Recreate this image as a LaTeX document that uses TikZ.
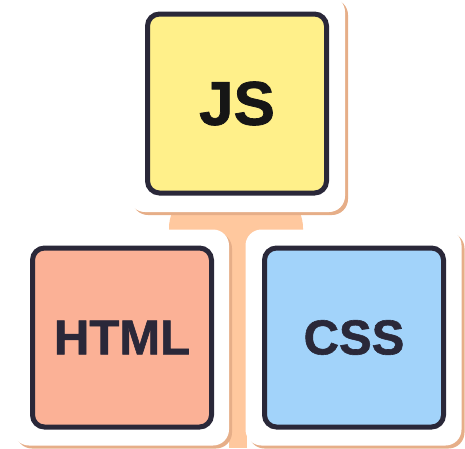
\documentclass[tikz,border=0pt]{standalone}
\usepackage{fontspec}
\setmainfont{Liberation Sans}[BoldFeatures={FakeBold=1.2}]
\usetikzlibrary{shadows}

\definecolor{peach}{RGB}{255,200,158}
\definecolor{peachShadow}{RGB}{230,174,136}
\definecolor{cardBorder}{RGB}{42,40,57}
\definecolor{jsYellow}{RGB}{255,240,138}
\definecolor{htmlSalmon}{RGB}{251,177,150}
\definecolor{cssBlue}{RGB}{162,211,250}
\definecolor{jsInk}{RGB}{22,22,22}

\tikzset{
	tile/.style={rectangle, fill=white, draw=none, rounded corners=16pt,
		minimum width=216pt, minimum height=216pt, inner sep=0pt,
		drop shadow={shadow xshift=3pt, shadow yshift=-3pt, fill=peachShadow, opacity=1}},
	card/.style={rectangle, draw=cardBorder, line width=5pt, rounded corners=12pt,
		minimum width=179pt, minimum height=179pt, inner sep=0pt,
		text=cardBorder, font=\bfseries\fontsize{49}{49}\selectfont}
}

\begin{document}
\begin{tikzpicture}[x=1pt,y=1pt,yscale=-1,xscale=1]
	\useasboundingbox (0,0) rectangle (465,448);

	%Shape: Backdrop [id:backdrop]
	\fill [peach, rounded corners=39pt] (169,189) rectangle (303,290);
	\fill [peach] (229,200) rectangle (247,448);

	% Tiles
	\node [tile] (jsTile) at (237,104) {};
	\node [tile] (htmlTile) at (121,337.5) {};
	\node [tile] (cssTile) at (353.5,337.5) {};

	% Text Node
	\node [card, fill=jsYellow, text=jsInk, font=\bfseries\fontsize{62}{62}\selectfont] (js) at (237,103.5) {JS};
	% Text Node
	\node [card, fill=htmlSalmon] (html) at (122,337.5) {HTML};
	% Text Node
	\node [card, fill=cssBlue] (css) at (354,337.5) {CSS};

\end{tikzpicture}
\end{document}
